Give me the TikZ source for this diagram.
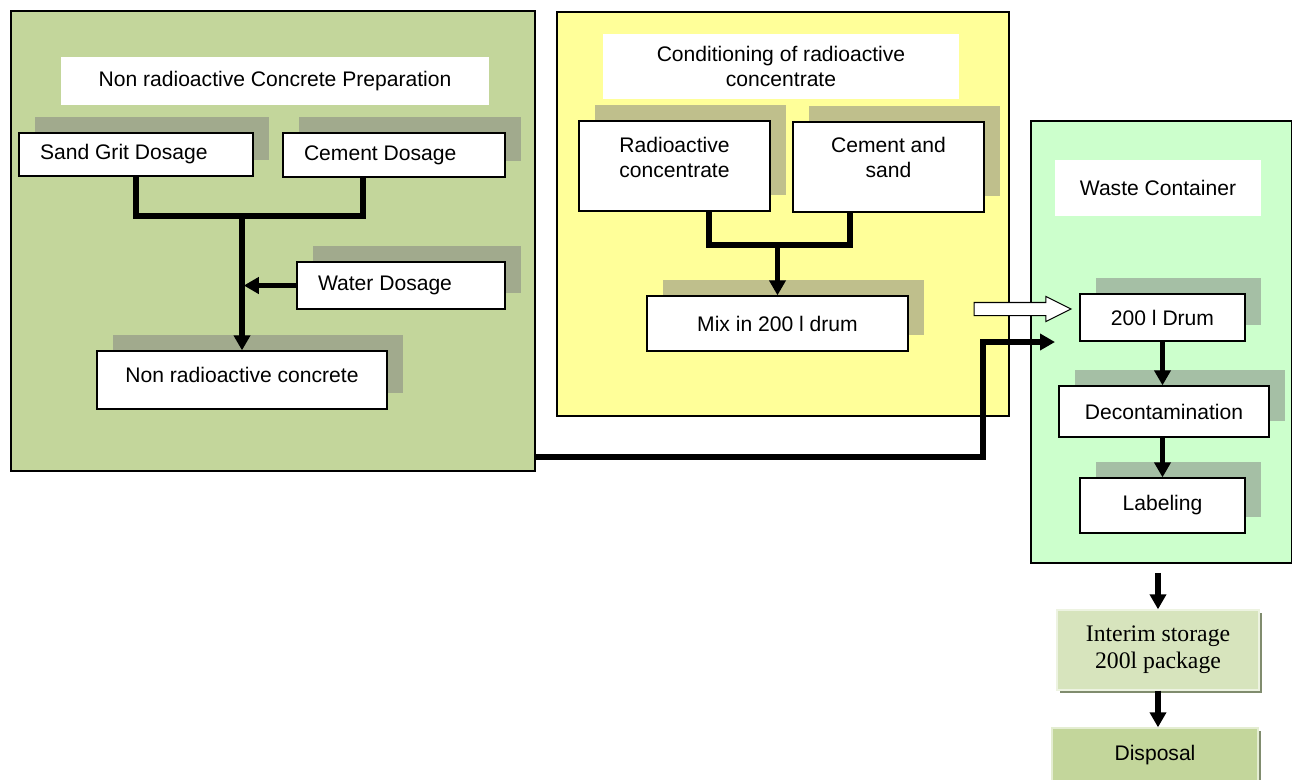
\documentclass[tikz,border=0pt]{standalone}
\usepackage{fontspec}
\setmainfont{Liberation Sans}
\newfontfamily\serifpart{Liberation Serif}
\usetikzlibrary{arrows.meta,shadows,shapes.arrows}
\definecolor{prepgreen}{HTML}{C3D69B}
\definecolor{condyellow}{HTML}{FFFF99}
\definecolor{wastegreen}{HTML}{CCFFCC}
\definecolor{storegreen}{HTML}{D7E4BD}
\definecolor{storeshade}{RGB}{128,140,110}

\begin{document}
\begin{tikzpicture}[x=0.02cm, y=-0.02cm,
    panel/.style={draw=black, fill=#1, line width=0.9pt},
    heading/.style={fill=white, align=center, font=\fontsize{12}{14.2}\selectfont},
    stage/.style={draw=black, fill=white, line width=0.75pt, align=center,
                  font=\fontsize{12}{14.2}\selectfont,
                  general shadow={fill=gray, opacity=0.5,
                                  shadow xshift=0.32cm, shadow yshift=0.32cm}},
    dosage/.style={stage, align=flush left, inner xsep=0.42cm, text width=#1},
    toptext/.style 2 args={inner sep=0pt, text height=#1, text depth=#2},
    outbox/.style={fill=#1, draw=white!55!#1, line width=0.8pt, align=center,
                   general shadow={fill=storeshade, shadow xshift=0.06cm, shadow yshift=-0.06cm}},
    line/.style={line width=3pt},
    arrow/.style={line, -{Triangle[length=0.3cm, width=0.32cm]}},
]
\useasboundingbox (0,0) rectangle (1292,779);

% Panels
\node[panel=prepgreen, minimum width=10.48cm, minimum height=9.2cm] (prep) at (273,241) {};
\node[panel=condyellow, minimum width=9.04cm, minimum height=8.08cm] (cond) at (783,214) {};
\node[panel=wastegreen, minimum width=5.22cm, minimum height=8.84cm] (waste) at (1161.5,342) {};

% Non radioactive concrete
\node[heading, minimum width=8.56cm, minimum height=0.96cm] (prept) at (275,81) {Non radioactive Concrete Preparation};
\node[dosage=3.84cm, minimum height=0.86cm] (sand) at (136,154.5) {Sand Grit Dosage};
\node[dosage=3.6cm, minimum height=0.88cm] (cement) at (394,155) {Cement Dosage};
\node[dosage=3.32cm, minimum height=0.94cm] (water) at (401,285.5) {Water Dosage};
\node[stage, toptext={0.62cm}{0.54cm}, minimum width=5.8cm] (concrete) at (242,380) {Non radioactive concrete};

\coordinate (joinA) at (242,216);
\draw[line] (sand.south) |- (joinA);
\draw[line] (cement.south -| 363,0) |- (joinA);
\draw[arrow] (joinA) -- (concrete.north);
\draw[arrow, shorten >=1pt] (water.west) -- (water.west -| joinA);

% Conditioning
\node[heading, minimum width=7.12cm, minimum height=1.3cm] (condt) at (781,66.5) {Conditioning of radioactive\\concentrate};
\node[stage, toptext={1.12cm}{0.68cm}, minimum width=3.82cm] (radc) at (674.5,166) {Radioactive\\concentrate};
\node[stage, toptext={1.11cm}{0.69cm}, minimum width=3.82cm] (cemsand) at (888.5,167) {Cement and\\sand};
\node[stage, minimum width=5.22cm, minimum height=1.1cm] (mix) at (777.5,323.5) {Mix in 200 l drum};

\coordinate (joinB) at (777.5,245);
\draw[line] (radc.south -| 709,0) |- (joinB);
\draw[line] (cemsand.south -| 850,0) |- (joinB);
\draw[arrow] (joinB) -- (mix.north);

% Waste container
\node[heading, minimum width=4.12cm, minimum height=1.12cm] (wastet) at (1158,188) {Waste Container};
\node[stage, minimum width=3.3cm, minimum height=0.94cm] (drum) at (1162.5,317.5) {200 l Drum};
\node[stage, minimum width=4.2cm, minimum height=1.02cm] (decon) at (1164,411.5) {Decontamination};
\node[stage, minimum width=3.3cm, minimum height=1.1cm] (labeling) at (1162.5,505.5) {Labeling};

\draw[arrow] (drum.south) -- (drum.south |- decon.north);
\draw[arrow] (labeling.north |- decon.south) -- (labeling.north);

% Feed arrows
\node[single arrow, draw=black, fill=white, line width=0.6pt,
      inner xsep=0pt, inner ysep=0.12cm, minimum height=1.94cm,
      single arrow head extend=0.12cm, single arrow tip angle=53] (feed) at (1016,309) {};
\coordinate (bend) at (983,342);
\coordinate (drumin) at (1055,342);
\draw[arrow] (prep.east |- 0,457) -| (bend) -- (drumin);

% Storage and disposal
\node[outbox=storegreen, minimum width=4.04cm, minimum height=1.6cm,
      font=\serifpart\fontsize{13.5}{15.4}\selectfont] (interim) at (1158,650) {Interim storage\\200l package};
\node[outbox=prepgreen, minimum width=4.12cm, minimum height=1.08cm,
      font=\fontsize{12}{14.2}\selectfont] (disposal) at (1155,755) {Disposal};

\draw[arrow, shorten <=0.18cm] (interim.north |- waste.south) -- (interim.north);
\draw[arrow] (interim.south) -- (interim.south |- disposal.north);

\end{tikzpicture}
\end{document}
